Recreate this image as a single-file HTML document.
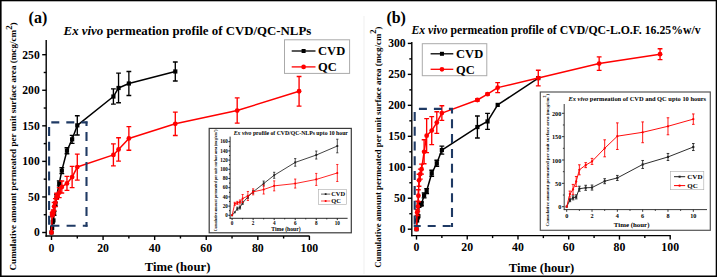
<!DOCTYPE html>
<html><head><meta charset='utf-8'><style>
html,body{margin:0;padding:0;background:#fff;width:717px;height:277px;overflow:hidden}
svg{display:block}
</style></head><body>
<svg width='717' height='277' viewBox='0 0 717 277'><rect width='717' height='277' fill='#fff'/><line x1='364' y1='16' x2='364' y2='274' stroke='#f5f5f5' stroke-width='1.5'/><text x='28.6' y='22.6' font-size='16' font-family="'Liberation Serif', serif" font-weight='bold'>(a)</text><text x='63.6' y='34.9' font-size='12.85' font-family="'Liberation Serif', serif" font-weight='bold'><tspan font-style='italic'>Ex vivo</tspan> permeation profile of CVD/QC-NLPs</text><text transform='translate(16.1,270.5) rotate(-90)' font-size='9.15' font-family="'Liberation Serif', serif" font-weight='bold'>Cumulative amount permeated per unit surface area (mcg/cm<tspan dy='-4.2' font-size='8.8'>2</tspan><tspan dy='4.2'>)</tspan></text><text x='144.7' y='270.5' font-size='12.7' font-family="'Liberation Serif', serif" font-weight='bold'>Time (hour)</text><line x1='46.2' y1='40' x2='46.2' y2='236.7' stroke='#000' stroke-width='1.4'/><line x1='45.5' y1='236' x2='309.6' y2='236' stroke='#000' stroke-width='1.4'/><line x1='42.2' y1='232.5' x2='46.2' y2='232.5' stroke='#000' stroke-width='1.4'/><text x='39.7' y='236.44' font-size='11.6' text-anchor='end' font-family="'Liberation Serif', serif" font-weight='bold'>0</text><line x1='42.2' y1='196.94' x2='46.2' y2='196.94' stroke='#000' stroke-width='1.4'/><text x='39.7' y='200.88' font-size='11.6' text-anchor='end' font-family="'Liberation Serif', serif" font-weight='bold'>50</text><line x1='42.2' y1='161.38' x2='46.2' y2='161.38' stroke='#000' stroke-width='1.4'/><text x='39.7' y='165.32' font-size='11.6' text-anchor='end' font-family="'Liberation Serif', serif" font-weight='bold'>100</text><line x1='42.2' y1='125.82' x2='46.2' y2='125.82' stroke='#000' stroke-width='1.4'/><text x='39.7' y='129.76' font-size='11.6' text-anchor='end' font-family="'Liberation Serif', serif" font-weight='bold'>150</text><line x1='42.2' y1='90.26' x2='46.2' y2='90.26' stroke='#000' stroke-width='1.4'/><text x='39.7' y='94.2' font-size='11.6' text-anchor='end' font-family="'Liberation Serif', serif" font-weight='bold'>200</text><line x1='42.2' y1='54.7' x2='46.2' y2='54.7' stroke='#000' stroke-width='1.4'/><text x='39.7' y='58.64' font-size='11.6' text-anchor='end' font-family="'Liberation Serif', serif" font-weight='bold'>250</text><line x1='43.7' y1='214.72' x2='46.2' y2='214.72' stroke='#000' stroke-width='1.4'/><line x1='43.7' y1='179.16' x2='46.2' y2='179.16' stroke='#000' stroke-width='1.4'/><line x1='43.7' y1='143.6' x2='46.2' y2='143.6' stroke='#000' stroke-width='1.4'/><line x1='43.7' y1='108.04' x2='46.2' y2='108.04' stroke='#000' stroke-width='1.4'/><line x1='43.7' y1='72.48' x2='46.2' y2='72.48' stroke='#000' stroke-width='1.4'/><line x1='51.5' y1='236' x2='51.5' y2='240' stroke='#000' stroke-width='1.4'/><text x='51.5' y='251.8' font-size='11.8' text-anchor='middle' font-family="'Liberation Serif', serif" font-weight='bold'>0</text><line x1='103.08' y1='236' x2='103.08' y2='240' stroke='#000' stroke-width='1.4'/><text x='103.08' y='251.8' font-size='11.8' text-anchor='middle' font-family="'Liberation Serif', serif" font-weight='bold'>20</text><line x1='154.66' y1='236' x2='154.66' y2='240' stroke='#000' stroke-width='1.4'/><text x='154.66' y='251.8' font-size='11.8' text-anchor='middle' font-family="'Liberation Serif', serif" font-weight='bold'>40</text><line x1='206.24' y1='236' x2='206.24' y2='240' stroke='#000' stroke-width='1.4'/><text x='206.24' y='251.8' font-size='11.8' text-anchor='middle' font-family="'Liberation Serif', serif" font-weight='bold'>60</text><line x1='257.82' y1='236' x2='257.82' y2='240' stroke='#000' stroke-width='1.4'/><text x='257.82' y='251.8' font-size='11.8' text-anchor='middle' font-family="'Liberation Serif', serif" font-weight='bold'>80</text><line x1='309.4' y1='236' x2='309.4' y2='240' stroke='#000' stroke-width='1.4'/><text x='309.4' y='251.8' font-size='11.8' text-anchor='middle' font-family="'Liberation Serif', serif" font-weight='bold'>100</text><line x1='77.29' y1='236' x2='77.29' y2='238.5' stroke='#000' stroke-width='1.4'/><line x1='128.87' y1='236' x2='128.87' y2='238.5' stroke='#000' stroke-width='1.4'/><line x1='180.45' y1='236' x2='180.45' y2='238.5' stroke='#000' stroke-width='1.4'/><line x1='232.03' y1='236' x2='232.03' y2='238.5' stroke='#000' stroke-width='1.4'/><line x1='283.61' y1='236' x2='283.61' y2='238.5' stroke='#000' stroke-width='1.4'/><polyline points='51.5,232.5 52.14,227.88 52.79,222.19 53.43,220.41 54.08,213.3 55.37,204.05 56.66,196.23 59.24,183.43 61.82,170.63 66.97,150.71 72.13,139.33 77.29,125.39 113.4,96.52 118.55,87.98 128.87,83.5 175.29,71.48' fill='none' stroke='#000' stroke-width='1.5' stroke-linejoin='round'/><path d='M54.08,211.3V215.3M51.68,211.3H56.48M51.68,215.3H56.48' stroke='#000' stroke-width='1.35' fill='none'/><path d='M55.37,202.05V206.05M52.97,202.05H57.77M52.97,206.05H57.77' stroke='#000' stroke-width='1.35' fill='none'/><path d='M56.66,194.23V198.23M54.26,194.23H59.06M54.26,198.23H59.06' stroke='#000' stroke-width='1.35' fill='none'/><path d='M59.24,180.93V185.93M56.84,180.93H61.64M56.84,185.93H61.64' stroke='#000' stroke-width='1.35' fill='none'/><path d='M61.82,167.63V173.63M59.42,167.63H64.22M59.42,173.63H64.22' stroke='#000' stroke-width='1.35' fill='none'/><path d='M66.97,147.71V153.71M64.57,147.71H69.37M64.57,153.71H69.37' stroke='#000' stroke-width='1.35' fill='none'/><path d='M72.13,135.33V143.33M69.73,135.33H74.53M69.73,143.33H74.53' stroke='#000' stroke-width='1.35' fill='none'/><path d='M77.29,115.79V134.99M74.89,115.79H79.69M74.89,134.99H79.69' stroke='#000' stroke-width='1.35' fill='none'/><path d='M113.4,88.92V104.12M111,88.92H115.8M111,104.12H115.8' stroke='#000' stroke-width='1.35' fill='none'/><path d='M118.55,73.18V102.78M116.15,73.18H120.95M116.15,102.78H120.95' stroke='#000' stroke-width='1.35' fill='none'/><path d='M128.87,71.5V95.5M126.47,71.5H131.27M126.47,95.5H131.27' stroke='#000' stroke-width='1.35' fill='none'/><path d='M175.29,61.98V80.98M172.89,61.98H177.69M172.89,80.98H177.69' stroke='#000' stroke-width='1.35' fill='none'/><rect x='49.4' y='230.4' width='4.2' height='4.2' fill='#000'/><rect x='50.04' y='225.78' width='4.2' height='4.2' fill='#000'/><rect x='50.69' y='220.09' width='4.2' height='4.2' fill='#000'/><rect x='51.33' y='218.31' width='4.2' height='4.2' fill='#000'/><rect x='51.98' y='211.2' width='4.2' height='4.2' fill='#000'/><rect x='53.27' y='201.95' width='4.2' height='4.2' fill='#000'/><rect x='54.56' y='194.13' width='4.2' height='4.2' fill='#000'/><rect x='57.14' y='181.33' width='4.2' height='4.2' fill='#000'/><rect x='59.72' y='168.53' width='4.2' height='4.2' fill='#000'/><rect x='64.87' y='148.61' width='4.2' height='4.2' fill='#000'/><rect x='70.03' y='137.23' width='4.2' height='4.2' fill='#000'/><rect x='75.19' y='123.29' width='4.2' height='4.2' fill='#000'/><rect x='111.3' y='94.42' width='4.2' height='4.2' fill='#000'/><rect x='116.45' y='85.88' width='4.2' height='4.2' fill='#000'/><rect x='126.77' y='81.4' width='4.2' height='4.2' fill='#000'/><rect x='173.19' y='69.38' width='4.2' height='4.2' fill='#000'/><polyline points='51.5,232.5 52.14,214.72 52.79,213.3 53.43,211.88 54.08,206.54 55.37,202.63 56.66,196.23 59.24,192.67 61.82,186.98 66.97,183.43 72.13,177.03 77.29,167.07 113.4,154.91 118.55,149.43 128.87,138.41 175.29,123.83 237.19,110.53 299.08,91.26' fill='none' stroke='#ff0000' stroke-width='1.5' stroke-linejoin='round'/><path d='M52.14,212.72V216.72M49.74,212.72H54.54M49.74,216.72H54.54' stroke='#ff0000' stroke-width='1.35' fill='none'/><path d='M52.79,211.3V215.3M50.39,211.3H55.19M50.39,215.3H55.19' stroke='#ff0000' stroke-width='1.35' fill='none'/><path d='M53.43,209.88V213.88M51.03,209.88H55.83M51.03,213.88H55.83' stroke='#ff0000' stroke-width='1.35' fill='none'/><path d='M54.08,202.54V210.54M51.68,202.54H56.48M51.68,210.54H56.48' stroke='#ff0000' stroke-width='1.35' fill='none'/><path d='M55.37,198.63V206.63M52.97,198.63H57.77M52.97,206.63H57.77' stroke='#ff0000' stroke-width='1.35' fill='none'/><path d='M56.66,193.23V199.23M54.26,193.23H59.06M54.26,199.23H59.06' stroke='#ff0000' stroke-width='1.35' fill='none'/><path d='M59.24,187.67V197.67M56.84,187.67H61.64M56.84,197.67H61.64' stroke='#ff0000' stroke-width='1.35' fill='none'/><path d='M61.82,180.98V192.98M59.42,180.98H64.22M59.42,192.98H64.22' stroke='#ff0000' stroke-width='1.35' fill='none'/><path d='M66.97,176.43V190.43M64.57,176.43H69.37M64.57,190.43H69.37' stroke='#ff0000' stroke-width='1.35' fill='none'/><path d='M72.13,166.43V187.63M69.73,166.43H74.53M69.73,187.63H74.53' stroke='#ff0000' stroke-width='1.35' fill='none'/><path d='M77.29,154.07V180.07M74.89,154.07H79.69M74.89,180.07H79.69' stroke='#ff0000' stroke-width='1.35' fill='none'/><path d='M113.4,143.91V165.91M111,143.91H115.8M111,165.91H115.8' stroke='#ff0000' stroke-width='1.35' fill='none'/><path d='M118.55,137.73V161.13M116.15,137.73H120.95M116.15,161.13H120.95' stroke='#ff0000' stroke-width='1.35' fill='none'/><path d='M128.87,126.61V150.21M126.47,126.61H131.27M126.47,150.21H131.27' stroke='#ff0000' stroke-width='1.35' fill='none'/><path d='M175.29,112.13V135.53M172.89,112.13H177.69M172.89,135.53H177.69' stroke='#ff0000' stroke-width='1.35' fill='none'/><path d='M237.19,97.93V123.13M234.79,97.93H239.59M234.79,123.13H239.59' stroke='#ff0000' stroke-width='1.35' fill='none'/><path d='M299.08,76.46V106.06M296.68,76.46H301.48M296.68,106.06H301.48' stroke='#ff0000' stroke-width='1.35' fill='none'/><circle cx='51.5' cy='232.5' r='2.4' fill='#ff0000'/><circle cx='52.14' cy='214.72' r='2.4' fill='#ff0000'/><circle cx='52.79' cy='213.3' r='2.4' fill='#ff0000'/><circle cx='53.43' cy='211.88' r='2.4' fill='#ff0000'/><circle cx='54.08' cy='206.54' r='2.4' fill='#ff0000'/><circle cx='55.37' cy='202.63' r='2.4' fill='#ff0000'/><circle cx='56.66' cy='196.23' r='2.4' fill='#ff0000'/><circle cx='59.24' cy='192.67' r='2.4' fill='#ff0000'/><circle cx='61.82' cy='186.98' r='2.4' fill='#ff0000'/><circle cx='66.97' cy='183.43' r='2.4' fill='#ff0000'/><circle cx='72.13' cy='177.03' r='2.4' fill='#ff0000'/><circle cx='77.29' cy='167.07' r='2.4' fill='#ff0000'/><circle cx='113.4' cy='154.91' r='2.4' fill='#ff0000'/><circle cx='118.55' cy='149.43' r='2.4' fill='#ff0000'/><circle cx='128.87' cy='138.41' r='2.4' fill='#ff0000'/><circle cx='175.29' cy='123.83' r='2.4' fill='#ff0000'/><circle cx='237.19' cy='110.53' r='2.4' fill='#ff0000'/><circle cx='299.08' cy='91.26' r='2.4' fill='#ff0000'/><line x1='48.1' y1='122.4' x2='87.5' y2='122.4' stroke='#1f3a64' stroke-width='2.1' stroke-dasharray='8 7' stroke-dashoffset='11.8'/><line x1='49.1' y1='122.4' x2='49.1' y2='225.7' stroke='#1f3a64' stroke-width='2.1' stroke-dasharray='9 5.8' stroke-dashoffset='10.2'/><line x1='48.1' y1='225.7' x2='87.5' y2='225.7' stroke='#1f3a64' stroke-width='2.1' stroke-dasharray='9 7.2' stroke-dashoffset='13.9'/><line x1='86.5' y1='121.4' x2='86.5' y2='226.7' stroke='#1f3a64' stroke-width='2.1' stroke-dasharray='9 6' stroke-dashoffset='4.4'/><rect x='284.5' y='39.8' width='65.1' height='33.6' fill='#fff' stroke='#aaa' stroke-width='1'/><line x1='291.7' y1='51' x2='315.5' y2='51' stroke='#000' stroke-width='1.3'/><rect x='301.6' y='49' width='4' height='4' fill='#000'/><text x='318.1' y='55.25' font-size='12.5' font-family="'Liberation Serif', serif" font-weight='bold'>CVD</text><line x1='291.7' y1='66.9' x2='315.5' y2='66.9' stroke='#ff0000' stroke-width='1.3'/><circle cx='303.6' cy='66.9' r='2.35' fill='#ff0000'/><text x='318.1' y='71.15' font-size='12.5' font-family="'Liberation Serif', serif" font-weight='bold'>QC</text><rect x='209.2' y='128.4' width='142.1' height='104.4' fill='#fff' stroke='#3a3a3a' stroke-width='1.2'/><text x='233.8' y='135.1' font-size='5.74' font-family="'Liberation Serif', serif" font-weight='bold'><tspan font-style='italic'>Ex vivo</tspan> profile of CVD/QC-NLPs upto 10 hour</text><text transform='translate(217.1,231.2) rotate(-90)' font-size='3.75' font-family="'Liberation Serif', serif" font-weight='bold'>Cumulative amount permeated per unit surface area (mcg/cm<tspan dy='-1.8' font-size='2.9'>2</tspan><tspan dy='1.8'>)</tspan></text><text x='271.2' y='230.5' font-size='5.7' font-family="'Liberation Serif', serif" font-weight='bold'>Time (hour)</text><line x1='230.1' y1='136.6' x2='230.1' y2='218.75' stroke='#111' stroke-width='0.9'/><line x1='229.65' y1='218.3' x2='347.6' y2='218.3' stroke='#111' stroke-width='0.9'/><line x1='228.3' y1='215.3' x2='230.1' y2='215.3' stroke='#111' stroke-width='0.9'/><text x='227.8' y='217.03' font-size='5.1' text-anchor='end' font-family="'Liberation Serif', serif" font-weight='bold'>0</text><line x1='228.3' y1='206.1' x2='230.1' y2='206.1' stroke='#111' stroke-width='0.9'/><text x='227.8' y='207.83' font-size='5.1' text-anchor='end' font-family="'Liberation Serif', serif" font-weight='bold'>20</text><line x1='228.3' y1='196.9' x2='230.1' y2='196.9' stroke='#111' stroke-width='0.9'/><text x='227.8' y='198.63' font-size='5.1' text-anchor='end' font-family="'Liberation Serif', serif" font-weight='bold'>40</text><line x1='228.3' y1='187.7' x2='230.1' y2='187.7' stroke='#111' stroke-width='0.9'/><text x='227.8' y='189.43' font-size='5.1' text-anchor='end' font-family="'Liberation Serif', serif" font-weight='bold'>60</text><line x1='228.3' y1='178.5' x2='230.1' y2='178.5' stroke='#111' stroke-width='0.9'/><text x='227.8' y='180.23' font-size='5.1' text-anchor='end' font-family="'Liberation Serif', serif" font-weight='bold'>80</text><line x1='228.3' y1='169.3' x2='230.1' y2='169.3' stroke='#111' stroke-width='0.9'/><text x='227.8' y='171.03' font-size='5.1' text-anchor='end' font-family="'Liberation Serif', serif" font-weight='bold'>100</text><line x1='228.3' y1='160.1' x2='230.1' y2='160.1' stroke='#111' stroke-width='0.9'/><text x='227.8' y='161.83' font-size='5.1' text-anchor='end' font-family="'Liberation Serif', serif" font-weight='bold'>120</text><line x1='228.3' y1='150.9' x2='230.1' y2='150.9' stroke='#111' stroke-width='0.9'/><text x='227.8' y='152.63' font-size='5.1' text-anchor='end' font-family="'Liberation Serif', serif" font-weight='bold'>140</text><line x1='228.3' y1='141.7' x2='230.1' y2='141.7' stroke='#111' stroke-width='0.9'/><text x='227.8' y='143.43' font-size='5.1' text-anchor='end' font-family="'Liberation Serif', serif" font-weight='bold'>160</text><line x1='229' y1='210.7' x2='230.1' y2='210.7' stroke='#111' stroke-width='0.9'/><line x1='229' y1='201.5' x2='230.1' y2='201.5' stroke='#111' stroke-width='0.9'/><line x1='229' y1='192.3' x2='230.1' y2='192.3' stroke='#111' stroke-width='0.9'/><line x1='229' y1='183.1' x2='230.1' y2='183.1' stroke='#111' stroke-width='0.9'/><line x1='229' y1='173.9' x2='230.1' y2='173.9' stroke='#111' stroke-width='0.9'/><line x1='229' y1='164.7' x2='230.1' y2='164.7' stroke='#111' stroke-width='0.9'/><line x1='229' y1='155.5' x2='230.1' y2='155.5' stroke='#111' stroke-width='0.9'/><line x1='229' y1='146.3' x2='230.1' y2='146.3' stroke='#111' stroke-width='0.9'/><line x1='232.1' y1='218.3' x2='232.1' y2='220.1' stroke='#111' stroke-width='0.9'/><text x='232.1' y='224.6' font-size='5.2' text-anchor='middle' font-family="'Liberation Serif', serif" font-weight='bold'>0</text><line x1='253.14' y1='218.3' x2='253.14' y2='220.1' stroke='#111' stroke-width='0.9'/><text x='253.14' y='224.6' font-size='5.2' text-anchor='middle' font-family="'Liberation Serif', serif" font-weight='bold'>2</text><line x1='274.18' y1='218.3' x2='274.18' y2='220.1' stroke='#111' stroke-width='0.9'/><text x='274.18' y='224.6' font-size='5.2' text-anchor='middle' font-family="'Liberation Serif', serif" font-weight='bold'>4</text><line x1='295.22' y1='218.3' x2='295.22' y2='220.1' stroke='#111' stroke-width='0.9'/><text x='295.22' y='224.6' font-size='5.2' text-anchor='middle' font-family="'Liberation Serif', serif" font-weight='bold'>6</text><line x1='316.26' y1='218.3' x2='316.26' y2='220.1' stroke='#111' stroke-width='0.9'/><text x='316.26' y='224.6' font-size='5.2' text-anchor='middle' font-family="'Liberation Serif', serif" font-weight='bold'>8</text><line x1='337.3' y1='218.3' x2='337.3' y2='220.1' stroke='#111' stroke-width='0.9'/><text x='337.3' y='224.6' font-size='5.2' text-anchor='middle' font-family="'Liberation Serif', serif" font-weight='bold'>10</text><line x1='242.62' y1='218.3' x2='242.62' y2='219.4' stroke='#111' stroke-width='0.9'/><line x1='263.66' y1='218.3' x2='263.66' y2='219.4' stroke='#111' stroke-width='0.9'/><line x1='284.7' y1='218.3' x2='284.7' y2='219.4' stroke='#111' stroke-width='0.9'/><line x1='305.74' y1='218.3' x2='305.74' y2='219.4' stroke='#111' stroke-width='0.9'/><line x1='326.78' y1='218.3' x2='326.78' y2='219.4' stroke='#111' stroke-width='0.9'/><polyline points='232.1,215.3 234.73,212.31 237.36,208.63 239.99,207.48 242.62,202.88 247.88,196.9 253.14,191.84 263.66,183.56 274.18,175.28 295.22,162.4 316.26,155.04 337.3,146.02' fill='none' stroke='#222' stroke-width='0.85' stroke-linejoin='round'/><path d='M237.36,207.13V210.13M236.26,207.13H238.46M236.26,210.13H238.46' stroke='#222' stroke-width='0.8' fill='none'/><path d='M239.99,205.98V208.98M238.89,205.98H241.09M238.89,208.98H241.09' stroke='#222' stroke-width='0.8' fill='none'/><path d='M242.62,201.38V204.38M241.52,201.38H243.72M241.52,204.38H243.72' stroke='#222' stroke-width='0.8' fill='none'/><path d='M247.88,195.4V198.4M246.78,195.4H248.98M246.78,198.4H248.98' stroke='#222' stroke-width='0.8' fill='none'/><path d='M253.14,190.34V193.34M252.04,190.34H254.24M252.04,193.34H254.24' stroke='#222' stroke-width='0.8' fill='none'/><path d='M263.66,181.06V186.06M262.56,181.06H264.76M262.56,186.06H264.76' stroke='#222' stroke-width='0.8' fill='none'/><path d='M274.18,172.28V178.28M273.08,172.28H275.28M273.08,178.28H275.28' stroke='#222' stroke-width='0.8' fill='none'/><path d='M295.22,158.6V166.2M294.12,158.6H296.32M294.12,166.2H296.32' stroke='#222' stroke-width='0.8' fill='none'/><path d='M316.26,151.04V159.04M315.16,151.04H317.36M315.16,159.04H317.36' stroke='#222' stroke-width='0.8' fill='none'/><path d='M337.3,139.22V152.82M336.2,139.22H338.4M336.2,152.82H338.4' stroke='#222' stroke-width='0.8' fill='none'/><rect x='231.15' y='214.35' width='1.9' height='1.9' fill='#222'/><rect x='233.78' y='211.36' width='1.9' height='1.9' fill='#222'/><rect x='236.41' y='207.68' width='1.9' height='1.9' fill='#222'/><rect x='239.04' y='206.53' width='1.9' height='1.9' fill='#222'/><rect x='241.67' y='201.93' width='1.9' height='1.9' fill='#222'/><rect x='246.93' y='195.95' width='1.9' height='1.9' fill='#222'/><rect x='252.19' y='190.89' width='1.9' height='1.9' fill='#222'/><rect x='262.71' y='182.61' width='1.9' height='1.9' fill='#222'/><rect x='273.23' y='174.33' width='1.9' height='1.9' fill='#222'/><rect x='294.27' y='161.45' width='1.9' height='1.9' fill='#222'/><rect x='315.31' y='154.09' width='1.9' height='1.9' fill='#222'/><rect x='336.35' y='145.07' width='1.9' height='1.9' fill='#222'/><polyline points='232.1,215.3 234.73,203.8 237.36,202.88 239.99,201.96 242.62,198.51 247.88,195.98 253.14,191.84 263.66,189.54 274.18,185.86 295.22,183.56 316.26,179.42 337.3,172.98' fill='none' stroke='#ff0000' stroke-width='0.85' stroke-linejoin='round'/><path d='M234.73,202.3V205.3M233.63,202.3H235.83M233.63,205.3H235.83' stroke='#ff0000' stroke-width='0.8' fill='none'/><path d='M237.36,201.38V204.38M236.26,201.38H238.46M236.26,204.38H238.46' stroke='#ff0000' stroke-width='0.8' fill='none'/><path d='M239.99,199.96V203.96M238.89,199.96H241.09M238.89,203.96H241.09' stroke='#ff0000' stroke-width='0.8' fill='none'/><path d='M242.62,194.51V202.51M241.52,194.51H243.72M241.52,202.51H243.72' stroke='#ff0000' stroke-width='0.8' fill='none'/><path d='M247.88,191.48V200.48M246.78,191.48H248.98M246.78,200.48H248.98' stroke='#ff0000' stroke-width='0.8' fill='none'/><path d='M253.14,188.84V194.84M252.04,188.84H254.24M252.04,194.84H254.24' stroke='#ff0000' stroke-width='0.8' fill='none'/><path d='M263.66,185.04V194.04M262.56,185.04H264.76M262.56,194.04H264.76' stroke='#ff0000' stroke-width='0.8' fill='none'/><path d='M274.18,180.86V190.86M273.08,180.86H275.28M273.08,190.86H275.28' stroke='#ff0000' stroke-width='0.8' fill='none'/><path d='M295.22,179.06V188.06M294.12,179.06H296.32M294.12,188.06H296.32' stroke='#ff0000' stroke-width='0.8' fill='none'/><path d='M316.26,173.42V185.42M315.16,173.42H317.36M315.16,185.42H317.36' stroke='#ff0000' stroke-width='0.8' fill='none'/><path d='M337.3,164.48V181.48M336.2,164.48H338.4M336.2,181.48H338.4' stroke='#ff0000' stroke-width='0.8' fill='none'/><circle cx='232.1' cy='215.3' r='1.05' fill='#ff0000'/><circle cx='234.73' cy='203.8' r='1.05' fill='#ff0000'/><circle cx='237.36' cy='202.88' r='1.05' fill='#ff0000'/><circle cx='239.99' cy='201.96' r='1.05' fill='#ff0000'/><circle cx='242.62' cy='198.51' r='1.05' fill='#ff0000'/><circle cx='247.88' cy='195.98' r='1.05' fill='#ff0000'/><circle cx='253.14' cy='191.84' r='1.05' fill='#ff0000'/><circle cx='263.66' cy='189.54' r='1.05' fill='#ff0000'/><circle cx='274.18' cy='185.86' r='1.05' fill='#ff0000'/><circle cx='295.22' cy='183.56' r='1.05' fill='#ff0000'/><circle cx='316.26' cy='179.42' r='1.05' fill='#ff0000'/><circle cx='337.3' cy='172.98' r='1.05' fill='#ff0000'/><rect x='318.4' y='189.5' width='28.1' height='14.8' fill='#fff' stroke='#aaa' stroke-width='0.6'/><line x1='321' y1='194.1' x2='330.3' y2='194.1' stroke='#222' stroke-width='0.7'/><rect x='324.75' y='193.2' width='1.8' height='1.8' fill='#222'/><text x='331.2' y='196.28' font-size='6.4' font-family="'Liberation Serif', serif" font-weight='bold'>CVD</text><line x1='321' y1='201' x2='330.3' y2='201' stroke='#ff0000' stroke-width='0.7'/><circle cx='325.65' cy='201' r='1.08' fill='#ff0000'/><text x='331.2' y='203.18' font-size='6.4' font-family="'Liberation Serif', serif" font-weight='bold'>QC</text><text x='386.4' y='22.5' font-size='16' font-family="'Liberation Serif', serif" font-weight='bold'>(b)</text><text x='411.4' y='34.1' font-size='11.75' font-family="'Liberation Serif', serif" font-weight='bold'><tspan font-style='italic'>Ex vivo</tspan> permeation profile of CVD/QC-L.O.F. 16.25%w/v</text><text transform='translate(380.6,267.8) rotate(-90)' font-size='8.9' font-family="'Liberation Serif', serif" font-weight='bold'>Cumulative amount permeated per unit surface area (mcg/cm<tspan dy='-4.2' font-size='8.6'>2</tspan><tspan dy='4.2'>)</tspan></text><text x='508.8' y='271.6' font-size='12.65' font-family="'Liberation Serif', serif" font-weight='bold'>Time (hour)</text><line x1='411.8' y1='41.9' x2='411.8' y2='236.3' stroke='#000' stroke-width='1.4'/><line x1='411.1' y1='235.6' x2='670.8' y2='235.6' stroke='#000' stroke-width='1.4'/><line x1='407.8' y1='229.2' x2='411.8' y2='229.2' stroke='#000' stroke-width='1.4'/><text x='405.6' y='233.14' font-size='11.6' text-anchor='end' font-family="'Liberation Serif', serif" font-weight='bold'>0</text><line x1='407.8' y1='198.23' x2='411.8' y2='198.23' stroke='#000' stroke-width='1.4'/><text x='405.6' y='202.18' font-size='11.6' text-anchor='end' font-family="'Liberation Serif', serif" font-weight='bold'>50</text><line x1='407.8' y1='167.27' x2='411.8' y2='167.27' stroke='#000' stroke-width='1.4'/><text x='405.6' y='171.21' font-size='11.6' text-anchor='end' font-family="'Liberation Serif', serif" font-weight='bold'>100</text><line x1='407.8' y1='136.31' x2='411.8' y2='136.31' stroke='#000' stroke-width='1.4'/><text x='405.6' y='140.25' font-size='11.6' text-anchor='end' font-family="'Liberation Serif', serif" font-weight='bold'>150</text><line x1='407.8' y1='105.34' x2='411.8' y2='105.34' stroke='#000' stroke-width='1.4'/><text x='405.6' y='109.28' font-size='11.6' text-anchor='end' font-family="'Liberation Serif', serif" font-weight='bold'>200</text><line x1='407.8' y1='74.38' x2='411.8' y2='74.38' stroke='#000' stroke-width='1.4'/><text x='405.6' y='78.32' font-size='11.6' text-anchor='end' font-family="'Liberation Serif', serif" font-weight='bold'>250</text><line x1='407.8' y1='43.41' x2='411.8' y2='43.41' stroke='#000' stroke-width='1.4'/><text x='405.6' y='47.35' font-size='11.6' text-anchor='end' font-family="'Liberation Serif', serif" font-weight='bold'>300</text><line x1='409.3' y1='213.72' x2='411.8' y2='213.72' stroke='#000' stroke-width='1.4'/><line x1='409.3' y1='182.75' x2='411.8' y2='182.75' stroke='#000' stroke-width='1.4'/><line x1='409.3' y1='151.79' x2='411.8' y2='151.79' stroke='#000' stroke-width='1.4'/><line x1='409.3' y1='120.82' x2='411.8' y2='120.82' stroke='#000' stroke-width='1.4'/><line x1='409.3' y1='89.86' x2='411.8' y2='89.86' stroke='#000' stroke-width='1.4'/><line x1='409.3' y1='58.89' x2='411.8' y2='58.89' stroke='#000' stroke-width='1.4'/><line x1='416.5' y1='235.6' x2='416.5' y2='239.6' stroke='#000' stroke-width='1.4'/><text x='416.5' y='251.3' font-size='11.8' text-anchor='middle' font-family="'Liberation Serif', serif" font-weight='bold'>0</text><line x1='467.24' y1='235.6' x2='467.24' y2='239.6' stroke='#000' stroke-width='1.4'/><text x='467.24' y='251.3' font-size='11.8' text-anchor='middle' font-family="'Liberation Serif', serif" font-weight='bold'>20</text><line x1='517.98' y1='235.6' x2='517.98' y2='239.6' stroke='#000' stroke-width='1.4'/><text x='517.98' y='251.3' font-size='11.8' text-anchor='middle' font-family="'Liberation Serif', serif" font-weight='bold'>40</text><line x1='568.72' y1='235.6' x2='568.72' y2='239.6' stroke='#000' stroke-width='1.4'/><text x='568.72' y='251.3' font-size='11.8' text-anchor='middle' font-family="'Liberation Serif', serif" font-weight='bold'>60</text><line x1='619.46' y1='235.6' x2='619.46' y2='239.6' stroke='#000' stroke-width='1.4'/><text x='619.46' y='251.3' font-size='11.8' text-anchor='middle' font-family="'Liberation Serif', serif" font-weight='bold'>80</text><line x1='670.2' y1='235.6' x2='670.2' y2='239.6' stroke='#000' stroke-width='1.4'/><text x='670.2' y='251.3' font-size='11.8' text-anchor='middle' font-family="'Liberation Serif', serif" font-weight='bold'>100</text><line x1='441.87' y1='235.6' x2='441.87' y2='238.1' stroke='#000' stroke-width='1.4'/><line x1='492.61' y1='235.6' x2='492.61' y2='238.1' stroke='#000' stroke-width='1.4'/><line x1='543.35' y1='235.6' x2='543.35' y2='238.1' stroke='#000' stroke-width='1.4'/><line x1='594.09' y1='235.6' x2='594.09' y2='238.1' stroke='#000' stroke-width='1.4'/><line x1='644.83' y1='235.6' x2='644.83' y2='238.1' stroke='#000' stroke-width='1.4'/><polyline points='416.5,229.2 417.13,220.53 417.77,217.43 418.4,216.19 419.04,205.36 420.31,204.12 421.57,203.81 424.11,195.39 426.65,191.05 431.72,173.22 436.8,163.24 441.87,150.05 477.39,127.02 487.54,121.44 497.68,104.91 538.28,78.09' fill='none' stroke='#000' stroke-width='1.5' stroke-linejoin='round'/><path d='M419.04,203.36V207.36M416.64,203.36H421.44M416.64,207.36H421.44' stroke='#000' stroke-width='1.35' fill='none'/><path d='M420.31,202.12V206.12M417.91,202.12H422.71M417.91,206.12H422.71' stroke='#000' stroke-width='1.35' fill='none'/><path d='M421.57,201.81V205.81M419.17,201.81H423.97M419.17,205.81H423.97' stroke='#000' stroke-width='1.35' fill='none'/><path d='M424.11,192.89V197.89M421.71,192.89H426.51M421.71,197.89H426.51' stroke='#000' stroke-width='1.35' fill='none'/><path d='M426.65,188.55V193.55M424.25,188.55H429.05M424.25,193.55H429.05' stroke='#000' stroke-width='1.35' fill='none'/><path d='M431.72,170.22V176.22M429.32,170.22H434.12M429.32,176.22H434.12' stroke='#000' stroke-width='1.35' fill='none'/><path d='M436.8,160.24V166.24M434.4,160.24H439.2M434.4,166.24H439.2' stroke='#000' stroke-width='1.35' fill='none'/><path d='M441.87,146.05V154.05M439.47,146.05H444.27M439.47,154.05H444.27' stroke='#000' stroke-width='1.35' fill='none'/><path d='M477.39,116.02V138.02M474.99,116.02H479.79M474.99,138.02H479.79' stroke='#000' stroke-width='1.35' fill='none'/><path d='M487.54,113.44V129.44M485.14,113.44H489.94M485.14,129.44H489.94' stroke='#000' stroke-width='1.35' fill='none'/><rect x='414.4' y='227.1' width='4.2' height='4.2' fill='#000'/><rect x='415.03' y='218.43' width='4.2' height='4.2' fill='#000'/><rect x='415.67' y='215.33' width='4.2' height='4.2' fill='#000'/><rect x='416.3' y='214.09' width='4.2' height='4.2' fill='#000'/><rect x='416.94' y='203.26' width='4.2' height='4.2' fill='#000'/><rect x='418.21' y='202.02' width='4.2' height='4.2' fill='#000'/><rect x='419.47' y='201.71' width='4.2' height='4.2' fill='#000'/><rect x='422.01' y='193.29' width='4.2' height='4.2' fill='#000'/><rect x='424.55' y='188.95' width='4.2' height='4.2' fill='#000'/><rect x='429.62' y='171.12' width='4.2' height='4.2' fill='#000'/><rect x='434.7' y='161.14' width='4.2' height='4.2' fill='#000'/><rect x='439.77' y='147.95' width='4.2' height='4.2' fill='#000'/><rect x='475.29' y='124.92' width='4.2' height='4.2' fill='#000'/><rect x='485.44' y='119.34' width='4.2' height='4.2' fill='#000'/><rect x='495.58' y='102.81' width='4.2' height='4.2' fill='#000'/><rect x='536.18' y='75.99' width='4.2' height='4.2' fill='#000'/><polyline points='416.5,229.2 417.13,212.48 417.77,206.29 418.4,195.76 419.04,180.28 420.31,174.08 421.57,169.13 424.11,151.79 426.65,135.69 431.72,130.55 436.8,122.56 441.87,113.08 477.39,100.01 487.54,94.19 497.68,87.63 538.28,78.09 599.16,63.6 660.05,54.19' fill='none' stroke='#ff0000' stroke-width='1.5' stroke-linejoin='round'/><path d='M417.13,209.48V215.48M414.73,209.48H419.53M414.73,215.48H419.53' stroke='#ff0000' stroke-width='1.35' fill='none'/><path d='M417.77,201.29V211.29M415.37,201.29H420.17M415.37,211.29H420.17' stroke='#ff0000' stroke-width='1.35' fill='none'/><path d='M418.4,189.76V201.76M416,189.76H420.8M416,201.76H420.8' stroke='#ff0000' stroke-width='1.35' fill='none'/><path d='M419.04,174.28V186.28M416.64,174.28H421.44M416.64,186.28H421.44' stroke='#ff0000' stroke-width='1.35' fill='none'/><path d='M420.31,169.08V179.08M417.91,169.08H422.71M417.91,179.08H422.71' stroke='#ff0000' stroke-width='1.35' fill='none'/><path d='M421.57,164.13V174.13M419.17,164.13H423.97M419.17,174.13H423.97' stroke='#ff0000' stroke-width='1.35' fill='none'/><path d='M424.11,139.79V163.79M421.71,139.79H426.51M421.71,163.79H426.51' stroke='#ff0000' stroke-width='1.35' fill='none'/><path d='M426.65,118.69V152.69M424.25,118.69H429.05M424.25,152.69H429.05' stroke='#ff0000' stroke-width='1.35' fill='none'/><path d='M431.72,116.55V144.55M429.32,116.55H434.12M429.32,144.55H434.12' stroke='#ff0000' stroke-width='1.35' fill='none'/><path d='M436.8,111.76V133.36M434.4,111.76H439.2M434.4,133.36H439.2' stroke='#ff0000' stroke-width='1.35' fill='none'/><path d='M441.87,105.78V120.38M439.47,105.78H444.27M439.47,120.38H444.27' stroke='#ff0000' stroke-width='1.35' fill='none'/><path d='M477.39,99.01V101.01M474.99,99.01H479.79M474.99,101.01H479.79' stroke='#ff0000' stroke-width='1.35' fill='none'/><path d='M487.54,93.19V95.19M485.14,93.19H489.94M485.14,95.19H489.94' stroke='#ff0000' stroke-width='1.35' fill='none'/><path d='M497.68,82.63V92.63M495.28,82.63H500.08M495.28,92.63H500.08' stroke='#ff0000' stroke-width='1.35' fill='none'/><path d='M538.28,70.29V85.89M535.88,70.29H540.68M535.88,85.89H540.68' stroke='#ff0000' stroke-width='1.35' fill='none'/><path d='M599.16,56.9V70.3M596.76,56.9H601.56M596.76,70.3H601.56' stroke='#ff0000' stroke-width='1.35' fill='none'/><path d='M660.05,48.79V59.59M657.65,48.79H662.45M657.65,59.59H662.45' stroke='#ff0000' stroke-width='1.35' fill='none'/><circle cx='416.5' cy='229.2' r='2.4' fill='#ff0000'/><circle cx='417.13' cy='212.48' r='2.4' fill='#ff0000'/><circle cx='417.77' cy='206.29' r='2.4' fill='#ff0000'/><circle cx='418.4' cy='195.76' r='2.4' fill='#ff0000'/><circle cx='419.04' cy='180.28' r='2.4' fill='#ff0000'/><circle cx='420.31' cy='174.08' r='2.4' fill='#ff0000'/><circle cx='421.57' cy='169.13' r='2.4' fill='#ff0000'/><circle cx='424.11' cy='151.79' r='2.4' fill='#ff0000'/><circle cx='426.65' cy='135.69' r='2.4' fill='#ff0000'/><circle cx='431.72' cy='130.55' r='2.4' fill='#ff0000'/><circle cx='436.8' cy='122.56' r='2.4' fill='#ff0000'/><circle cx='441.87' cy='113.08' r='2.4' fill='#ff0000'/><circle cx='477.39' cy='100.01' r='2.4' fill='#ff0000'/><circle cx='487.54' cy='94.19' r='2.4' fill='#ff0000'/><circle cx='497.68' cy='87.63' r='2.4' fill='#ff0000'/><circle cx='538.28' cy='78.09' r='2.4' fill='#ff0000'/><circle cx='599.16' cy='63.6' r='2.4' fill='#ff0000'/><circle cx='660.05' cy='54.19' r='2.4' fill='#ff0000'/><line x1='413.7' y1='108.9' x2='453' y2='108.9' stroke='#1f3a64' stroke-width='2.1' stroke-dasharray='8 7' stroke-dashoffset='9.8'/><line x1='414.7' y1='108.9' x2='414.7' y2='226' stroke='#1f3a64' stroke-width='2.1' stroke-dasharray='9 5.8' stroke-dashoffset='11.8'/><line x1='413.7' y1='226' x2='453' y2='226' stroke='#1f3a64' stroke-width='2.1' stroke-dasharray='8 7' stroke-dashoffset='1'/><line x1='452' y1='107.9' x2='452' y2='227' stroke='#1f3a64' stroke-width='2.1' stroke-dasharray='9 5.8' stroke-dashoffset='3.4'/><rect x='422.3' y='43.7' width='64.5' height='32' fill='#fff' stroke='#aaa' stroke-width='1'/><line x1='430.6' y1='53.8' x2='453.3' y2='53.8' stroke='#000' stroke-width='1.3'/><rect x='439.95' y='51.8' width='4' height='4' fill='#000'/><text x='456.1' y='58.05' font-size='12.5' font-family="'Liberation Serif', serif" font-weight='bold'>CVD</text><line x1='430.6' y1='69.3' x2='453.3' y2='69.3' stroke='#ff0000' stroke-width='1.3'/><circle cx='441.95' cy='69.3' r='2.35' fill='#ff0000'/><text x='456.1' y='73.55' font-size='12.5' font-family="'Liberation Serif', serif" font-weight='bold'>QC</text><rect x='540.3' y='92' width='170' height='138.3' fill='#fff' stroke='#555' stroke-width='1.2'/><text x='568.5' y='101.1' font-size='6.41' font-family="'Liberation Serif', serif" font-weight='bold'><tspan font-style='italic'>Ex vivo</tspan> permeation of CVD and QC upto 10 hours</text><text transform='translate(548.7,226.4) rotate(-90)' font-size='4.9' font-family="'Liberation Serif', serif" font-weight='bold'>Cumulative amount permeated per unit surface area (mcg/cm<tspan dy='-2.3' font-size='3.7'>2</tspan><tspan dy='2.3'>)</tspan></text><text x='613.8' y='227.1' font-size='6.9' font-family="'Liberation Serif', serif" font-weight='bold'>Time (hour)</text><line x1='564.2' y1='104' x2='564.2' y2='210.05' stroke='#222' stroke-width='0.9'/><line x1='563.75' y1='209.6' x2='707' y2='209.6' stroke='#222' stroke-width='0.9'/><line x1='562' y1='206.7' x2='564.2' y2='206.7' stroke='#222' stroke-width='0.9'/><text x='561.3' y='209.31' font-size='6.2' text-anchor='end' font-family="'Liberation Serif', serif" font-weight='bold'>0</text><line x1='562' y1='183.35' x2='564.2' y2='183.35' stroke='#222' stroke-width='0.9'/><text x='561.3' y='185.96' font-size='6.2' text-anchor='end' font-family="'Liberation Serif', serif" font-weight='bold'>50</text><line x1='562' y1='160' x2='564.2' y2='160' stroke='#222' stroke-width='0.9'/><text x='561.3' y='162.61' font-size='6.2' text-anchor='end' font-family="'Liberation Serif', serif" font-weight='bold'>100</text><line x1='562' y1='136.65' x2='564.2' y2='136.65' stroke='#222' stroke-width='0.9'/><text x='561.3' y='139.26' font-size='6.2' text-anchor='end' font-family="'Liberation Serif', serif" font-weight='bold'>150</text><line x1='562' y1='113.3' x2='564.2' y2='113.3' stroke='#222' stroke-width='0.9'/><text x='561.3' y='115.91' font-size='6.2' text-anchor='end' font-family="'Liberation Serif', serif" font-weight='bold'>200</text><line x1='562.9' y1='195.02' x2='564.2' y2='195.02' stroke='#222' stroke-width='0.9'/><line x1='562.9' y1='171.67' x2='564.2' y2='171.67' stroke='#222' stroke-width='0.9'/><line x1='562.9' y1='148.32' x2='564.2' y2='148.32' stroke='#222' stroke-width='0.9'/><line x1='562.9' y1='124.97' x2='564.2' y2='124.97' stroke='#222' stroke-width='0.9'/><line x1='566.7' y1='209.6' x2='566.7' y2='211.8' stroke='#222' stroke-width='0.9'/><text x='566.7' y='217.9' font-size='6.2' text-anchor='middle' font-family="'Liberation Serif', serif" font-weight='bold'>0</text><line x1='592.02' y1='209.6' x2='592.02' y2='211.8' stroke='#222' stroke-width='0.9'/><text x='592.02' y='217.9' font-size='6.2' text-anchor='middle' font-family="'Liberation Serif', serif" font-weight='bold'>2</text><line x1='617.34' y1='209.6' x2='617.34' y2='211.8' stroke='#222' stroke-width='0.9'/><text x='617.34' y='217.9' font-size='6.2' text-anchor='middle' font-family="'Liberation Serif', serif" font-weight='bold'>4</text><line x1='642.66' y1='209.6' x2='642.66' y2='211.8' stroke='#222' stroke-width='0.9'/><text x='642.66' y='217.9' font-size='6.2' text-anchor='middle' font-family="'Liberation Serif', serif" font-weight='bold'>6</text><line x1='667.98' y1='209.6' x2='667.98' y2='211.8' stroke='#222' stroke-width='0.9'/><text x='667.98' y='217.9' font-size='6.2' text-anchor='middle' font-family="'Liberation Serif', serif" font-weight='bold'>8</text><line x1='693.3' y1='209.6' x2='693.3' y2='211.8' stroke='#222' stroke-width='0.9'/><text x='693.3' y='217.9' font-size='6.2' text-anchor='middle' font-family="'Liberation Serif', serif" font-weight='bold'>10</text><line x1='579.36' y1='209.6' x2='579.36' y2='210.9' stroke='#222' stroke-width='0.9'/><line x1='604.68' y1='209.6' x2='604.68' y2='210.9' stroke='#222' stroke-width='0.9'/><line x1='630' y1='209.6' x2='630' y2='210.9' stroke='#222' stroke-width='0.9'/><line x1='655.32' y1='209.6' x2='655.32' y2='210.9' stroke='#222' stroke-width='0.9'/><line x1='680.64' y1='209.6' x2='680.64' y2='210.9' stroke='#222' stroke-width='0.9'/><polyline points='566.7,206.7 569.87,200.16 573.03,197.83 576.2,196.89 579.36,188.72 585.69,187.79 592.02,187.55 604.68,181.2 617.34,177.93 642.66,164.48 667.98,156.96 693.3,147.02' fill='none' stroke='#222' stroke-width='0.95' stroke-linejoin='round'/><path d='M569.87,198.66V201.66M568.57,198.66H571.16M568.57,201.66H571.16' stroke='#222' stroke-width='0.9' fill='none'/><path d='M573.03,195.83V199.83M571.73,195.83H574.33M571.73,199.83H574.33' stroke='#222' stroke-width='0.9' fill='none'/><path d='M576.2,194.89V198.89M574.9,194.89H577.5M574.9,198.89H577.5' stroke='#222' stroke-width='0.9' fill='none'/><path d='M579.36,186.22V191.22M578.06,186.22H580.66M578.06,191.22H580.66' stroke='#222' stroke-width='0.9' fill='none'/><path d='M585.69,185.29V190.29M584.39,185.29H586.99M584.39,190.29H586.99' stroke='#222' stroke-width='0.9' fill='none'/><path d='M592.02,185.05V190.05M590.72,185.05H593.32M590.72,190.05H593.32' stroke='#222' stroke-width='0.9' fill='none'/><path d='M604.68,178.7V183.7M603.38,178.7H605.98M603.38,183.7H605.98' stroke='#222' stroke-width='0.9' fill='none'/><path d='M617.34,175.43V180.43M616.04,175.43H618.64M616.04,180.43H618.64' stroke='#222' stroke-width='0.9' fill='none'/><path d='M642.66,160.48V168.48M641.36,160.48H643.96M641.36,168.48H643.96' stroke='#222' stroke-width='0.9' fill='none'/><path d='M667.98,153.46V160.46M666.68,153.46H669.28M666.68,160.46H669.28' stroke='#222' stroke-width='0.9' fill='none'/><path d='M693.3,143.52V150.52M692,143.52H694.6M692,150.52H694.6' stroke='#222' stroke-width='0.9' fill='none'/><rect x='565.65' y='205.65' width='2.1' height='2.1' fill='#222'/><rect x='568.82' y='199.11' width='2.1' height='2.1' fill='#222'/><rect x='571.98' y='196.78' width='2.1' height='2.1' fill='#222'/><rect x='575.15' y='195.84' width='2.1' height='2.1' fill='#222'/><rect x='578.31' y='187.67' width='2.1' height='2.1' fill='#222'/><rect x='584.64' y='186.74' width='2.1' height='2.1' fill='#222'/><rect x='590.97' y='186.5' width='2.1' height='2.1' fill='#222'/><rect x='603.63' y='180.15' width='2.1' height='2.1' fill='#222'/><rect x='616.29' y='176.88' width='2.1' height='2.1' fill='#222'/><rect x='641.61' y='163.43' width='2.1' height='2.1' fill='#222'/><rect x='666.93' y='155.91' width='2.1' height='2.1' fill='#222'/><rect x='692.25' y='145.97' width='2.1' height='2.1' fill='#222'/><polyline points='566.7,206.7 569.87,194.09 573.03,189.42 576.2,181.48 579.36,169.81 585.69,165.14 592.02,161.4 604.68,148.32 617.34,136.18 642.66,132.31 667.98,126.28 693.3,119.14' fill='none' stroke='#ff0000' stroke-width='0.95' stroke-linejoin='round'/><path d='M569.87,191.09V197.09M568.57,191.09H571.16M568.57,197.09H571.16' stroke='#ff0000' stroke-width='0.9' fill='none'/><path d='M573.03,184.42V194.42M571.73,184.42H574.33M571.73,194.42H574.33' stroke='#ff0000' stroke-width='0.9' fill='none'/><path d='M576.2,176.48V186.48M574.9,176.48H577.5M574.9,186.48H577.5' stroke='#ff0000' stroke-width='0.9' fill='none'/><path d='M579.36,164.81V174.81M578.06,164.81H580.66M578.06,174.81H580.66' stroke='#ff0000' stroke-width='0.9' fill='none'/><path d='M585.69,162.64V167.64M584.39,162.64H586.99M584.39,167.64H586.99' stroke='#ff0000' stroke-width='0.9' fill='none'/><path d='M592.02,158.4V164.4M590.72,158.4H593.32M590.72,164.4H593.32' stroke='#ff0000' stroke-width='0.9' fill='none'/><path d='M604.68,139.82V156.82M603.38,139.82H605.98M603.38,156.82H605.98' stroke='#ff0000' stroke-width='0.9' fill='none'/><path d='M617.34,122.88V149.48M616.04,122.88H618.64M616.04,149.48H618.64' stroke='#ff0000' stroke-width='0.9' fill='none'/><path d='M642.66,121.91V142.71M641.36,121.91H643.96M641.36,142.71H643.96' stroke='#ff0000' stroke-width='0.9' fill='none'/><path d='M667.98,117.78V134.78M666.68,117.78H669.28M666.68,134.78H669.28' stroke='#ff0000' stroke-width='0.9' fill='none'/><path d='M693.3,113.94V124.34M692,113.94H694.6M692,124.34H694.6' stroke='#ff0000' stroke-width='0.9' fill='none'/><circle cx='566.7' cy='206.7' r='1.15' fill='#ff0000'/><circle cx='569.87' cy='194.09' r='1.15' fill='#ff0000'/><circle cx='573.03' cy='189.42' r='1.15' fill='#ff0000'/><circle cx='576.2' cy='181.48' r='1.15' fill='#ff0000'/><circle cx='579.36' cy='169.81' r='1.15' fill='#ff0000'/><circle cx='585.69' cy='165.14' r='1.15' fill='#ff0000'/><circle cx='592.02' cy='161.4' r='1.15' fill='#ff0000'/><circle cx='604.68' cy='148.32' r='1.15' fill='#ff0000'/><circle cx='617.34' cy='136.18' r='1.15' fill='#ff0000'/><circle cx='642.66' cy='132.31' r='1.15' fill='#ff0000'/><circle cx='667.98' cy='126.28' r='1.15' fill='#ff0000'/><circle cx='693.3' cy='119.14' r='1.15' fill='#ff0000'/><rect x='670.6' y='171.3' width='33.2' height='18.4' fill='#fff' stroke='#aaa' stroke-width='0.6'/><line x1='674' y1='176.7' x2='685.2' y2='176.7' stroke='#222' stroke-width='1.0'/><rect x='678.6' y='175.7' width='2' height='2' fill='#222'/><text x='687.3' y='179.08' font-size='7' font-family="'Liberation Serif', serif" font-weight='bold'>CVD</text><line x1='674' y1='185.6' x2='685.2' y2='185.6' stroke='#ff0000' stroke-width='1.0'/><circle cx='679.6' cy='185.6' r='1.2' fill='#ff0000'/><text x='687.3' y='187.98' font-size='7' font-family="'Liberation Serif', serif" font-weight='bold'>QC</text><rect x='0' y='0' width='717' height='1.3' fill='#000'/><rect x='0' y='0' width='1.6' height='277' fill='#000'/><rect x='715.7' y='0' width='1.3' height='277' fill='#000'/><rect x='0' y='275.5' width='717' height='1.5' fill='#000'/></svg>
</body></html>
